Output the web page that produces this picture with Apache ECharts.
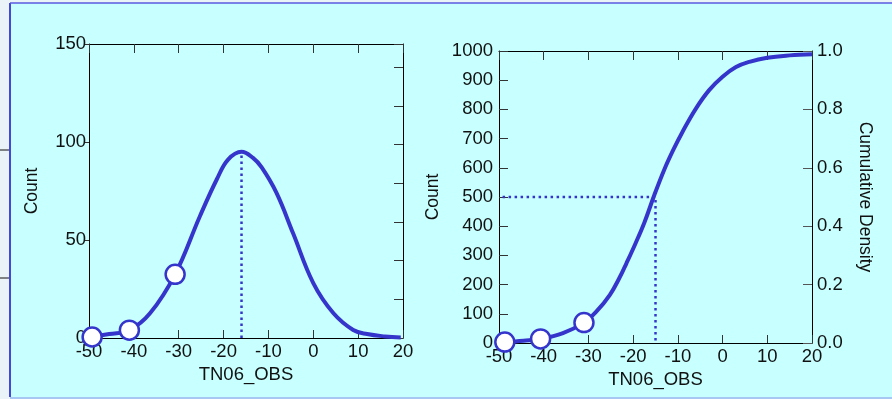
<!DOCTYPE html>
<html>
<head>
<meta charset="utf-8">
<script src="https://cdn.jsdelivr.net/npm/echarts@6/dist/echarts.min.js"></script>
<style>
html,body{margin:0;padding:0;background:#eaf3f7;}
#c{width:892px;height:399px;}
</style>
</head>
<body>
<div id="c"></div>
<script>
// ---- data ----
const xTicks = [-50, -40, -30, -20, -10, 0, 10, 20];
// Left panel: density curve (Count)
const densX = [-49.3, -45.5, -41, -36.4, -30.8, -25.3, -21.5, -19, -16, -13.5, -11.5, -8.2, -4.5, 0, 4.5, 8.9, 12, 16, 19.5];
const densY = [0.5, 2, 4, 12.6, 32.5, 62, 81, 91, 95, 92, 87, 74, 53.4, 28, 12.6, 4.1, 2, 0.8, 0.3];
const densMarkX = [-49.3, -41, -30.8];
const densMarkY = [0.5, 4, 32.5];
const densMedianX = -16;
const densPeakY = 95;
// Right panel: cumulative curve (Count / Cumulative Density)
const cumX = [-48.7, -44.5, -40.7, -35.7, -31, -28.2, -25.2, -23, -21.5, -19.5, -17.5, -15.3, -13, -11, -9, -6, -3, 0, 3, 6, 10, 15, 20];
const cumY = [3, 8, 14, 34, 70, 108, 165, 225, 273, 340, 412, 505, 595, 662, 722, 802, 866, 912, 945, 963, 977, 985, 989];
const cumMarkX = [-48.7, -40.7, -31];
const cumMarkY = [3, 14, 70];
const cumMedianX = -15;
const cumHalfY = 500;
const cumLeftX = -49.2;

const blue = '#3535cc';
const font = '"Liberation Sans", Arial, sans-serif';
const fs = 18.5;   // tick labels and x names
const fsV = 17.5;  // rotated axis names
const zip = (a, b) => a.map((v, i) => [v, b[i]]);

function xAx(grid, top, withLabel) {
  return {
    gridIndex: grid, type: 'value', min: -50, max: 20, interval: 10,
    position: top ? 'top' : 'bottom',
    axisLine: {show: true, onZero: false, lineStyle: {color: '#000', width: 1}},
    axisTick: {show: true, inside: true, length: top ? 9 : 8, lineStyle: {color: '#333', width: 1}},
    axisLabel: {show: withLabel, fontSize: fs, color: '#111', fontFamily: font, margin: 4},
    splitLine: {show: false},
    name: withLabel ? 'TN06_OBS' : '', nameLocation: 'middle', nameGap: 25,
    nameTextStyle: {fontSize: fs, color: '#111', fontFamily: font}
  };
}

const option = {
  backgroundColor: '#eaf3f7',
  animation: false,
  graphic: [
    {type: 'rect', z: -10, shape: {x: 10, y: 3, width: 884, height: 394}, style: {fill: '#c8ffff', stroke: null}},
    {type: 'line', z: -9, shape: {x1: 10, y1: 3, x2: 10, y2: 397}, style: {stroke: '#4646dc', lineWidth: 2}},
    {type: 'line', z: -9, shape: {x1: 10, y1: 3, x2: 892, y2: 3}, style: {stroke: '#5a5ae0', lineWidth: 1.5}},
    {type: 'line', z: -9, shape: {x1: 10, y1: 398, x2: 892, y2: 398}, style: {stroke: '#a6c8f2', lineWidth: 2}},
    {type: 'line', z: -9, shape: {x1: 0, y1: 150, x2: 9, y2: 150}, style: {stroke: '#111', lineWidth: 1}},
    {type: 'line', z: -9, shape: {x1: 0, y1: 278, x2: 9, y2: 278}, style: {stroke: '#111', lineWidth: 1}}
  ],
  grid: [
    {left: 89, top: 44, width: 314, height: 294},
    {left: 499, top: 51, width: 313, height: 292}
  ],
  xAxis: [xAx(0, false, true), xAx(0, true, false), xAx(1, false, true), xAx(1, true, false)],
  yAxis: [
    {gridIndex: 0, type: 'value', min: 0, max: 150, interval: 50, position: 'left',
     axisLine: {show: true, onZero: false, lineStyle: {color: '#000'}},
     axisTick: {show: true, inside: false, length: 5, lineStyle: {color: '#333'}},
     axisLabel: {fontSize: fs, color: '#111', fontFamily: font, margin: 3},
     splitLine: {show: false},
     name: 'Count', nameLocation: 'middle', nameGap: 48, nameRotate: 90,
     nameTextStyle: {fontSize: fsV, color: '#111', fontFamily: font}},
    {gridIndex: 0, type: 'value', min: 0, max: 7.6, interval: 1, position: 'right',
     axisLine: {show: true, onZero: false, lineStyle: {color: '#000'}},
     axisTick: {show: true, inside: true, length: 9, lineStyle: {color: '#333'}},
     axisLabel: {show: false}, splitLine: {show: false}},
    {gridIndex: 1, type: 'value', min: 0, max: 1000, interval: 100, position: 'left',
     axisLine: {show: true, onZero: false, lineStyle: {color: '#000'}},
     axisTick: {show: true, inside: true, length: 9, lineStyle: {color: '#333'}},
     axisLabel: {fontSize: fs, color: '#111', fontFamily: font, margin: 6, formatter: v => String(v)},
     splitLine: {show: false},
     name: 'Count', nameLocation: 'middle', nameGap: 57, nameRotate: 90,
     nameTextStyle: {fontSize: fsV, color: '#111', fontFamily: font}},
    {gridIndex: 1, type: 'value', min: 0, max: 1, interval: 0.2, position: 'right',
     axisLine: {show: true, onZero: false, lineStyle: {color: '#000'}},
     axisTick: {show: true, inside: true, length: 9, lineStyle: {color: '#555'}},
     axisLabel: {fontSize: fs, color: '#111', fontFamily: font, margin: 5, formatter: v => v.toFixed(1)},
     splitLine: {show: false},
     name: 'Cumulative Density', nameLocation: 'middle', nameGap: 44, nameRotate: -90,
     nameTextStyle: {fontSize: fsV, color: '#111', fontFamily: font}}
  ],
  series: [
    {type: 'line', xAxisIndex: 0, yAxisIndex: 0, showSymbol: false, silent: true,
     data: [[densMedianX, 0], [densMedianX, densPeakY]],
     lineStyle: {color: blue, width: 2.5, type: [2.5, 3.5]}},
    {type: 'line', xAxisIndex: 0, yAxisIndex: 0, showSymbol: false, smooth: 0.4,
     data: zip(densX, densY), lineStyle: {color: blue, width: 4}},
    {type: 'scatter', xAxisIndex: 0, yAxisIndex: 0, symbol: 'circle', symbolSize: 19, z: 5,
     data: zip(densMarkX, densMarkY),
     itemStyle: {color: '#fff', borderColor: blue, borderWidth: 2.5, opacity: 1}},
    {type: 'line', xAxisIndex: 2, yAxisIndex: 2, showSymbol: false, silent: true,
     data: [[cumLeftX, cumHalfY], [cumMedianX, cumHalfY], [cumMedianX, 0]],
     lineStyle: {color: blue, width: 2.5, type: [2.5, 3.5]}},
    {type: 'line', xAxisIndex: 2, yAxisIndex: 2, showSymbol: false, smooth: 0.4,
     data: zip(cumX, cumY), lineStyle: {color: blue, width: 4}},
    {type: 'scatter', xAxisIndex: 2, yAxisIndex: 2, symbol: 'circle', symbolSize: 19, z: 5,
     data: zip(cumMarkX, cumMarkY),
     itemStyle: {color: '#fff', borderColor: blue, borderWidth: 2.5, opacity: 1}}
  ]
};
const chart = echarts.init(document.getElementById('c'), null, {renderer: 'canvas'});
chart.setOption(option);
</script>
</body>
</html>
